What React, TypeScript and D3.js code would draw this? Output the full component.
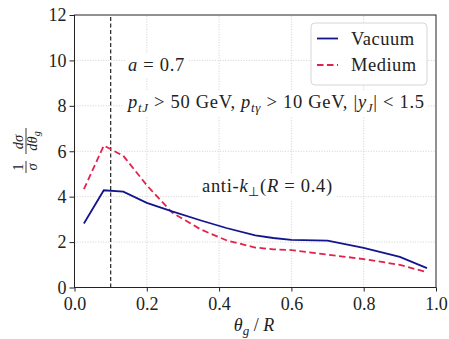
import React, { useEffect, useRef } from 'react';
import * as d3 from 'd3';

const thetaBins = [0.026, 0.081, 0.135, 0.2, 0.27, 0.35, 0.42, 0.5, 0.55, 0.6, 0.7, 0.8, 0.9, 0.975];
const vacuumVals = [2.82, 4.28, 4.22, 3.73, 3.35, 2.95, 2.62, 2.3, 2.18, 2.1, 2.06, 1.75, 1.35, 0.85];
const mediumVals = [4.33, 6.25, 5.8, 4.5, 3.3, 2.55, 2.08, 1.76, 1.68, 1.65, 1.45, 1.25, 1.0, 0.67];
const xTicks = [0, 0.2, 0.4, 0.6, 0.8, 1.0];
const yTicks = [0, 2, 4, 6, 8, 10, 12];
const aCut = 0.1;

const FONT = '"Liberation Serif", serif';

const App = () => {
  const svgRef = useRef<SVGSVGElement>(null);
  const width = 449;
  const height = 339;

  useEffect(() => {
    const svg = d3.select(svgRef.current);
    svg.selectAll('*').remove();

    const margin = { top: 15, right: 13, bottom: 51.5, left: 74.5 };
    const x = d3.scaleLinear().domain([0, 1]).range([margin.left, width - margin.right]);
    const y = d3.scaleLinear().domain([0, 12]).range([height - margin.bottom, margin.top]);

    // grid
    const grid = svg.append('g').attr('stroke', '#c4c4c4').attr('stroke-width', 0.8).attr('stroke-dasharray', '1,1.6');
    grid.selectAll('line.gx')
      .data(xTicks.slice(1, -1))
      .join('line')
      .attr('x1', (d) => x(d)).attr('x2', (d) => x(d))
      .attr('y1', y(0)).attr('y2', y(12));
    grid.selectAll('line.gy')
      .data(yTicks.slice(1, -1))
      .join('line')
      .attr('class', 'gy')
      .attr('x1', x(0)).attr('x2', x(1))
      .attr('y1', (d) => y(d)).attr('y2', (d) => y(d));

    // annotations with white boxes (drawn over grid)
    const addText = (tx: number, ty: number, build: (t: any) => void) => {
      const t = svg.append('text').attr('x', tx).attr('y', ty)
        .attr('font-family', FONT).attr('font-size', 18.5).attr('fill', '#222')
        .attr('letter-spacing', 0.7);
      build(t);
      const bb = (t.node() as SVGTextElement).getBBox();
      svg.insert('rect', 'text')
        .attr('x', bb.x - 3).attr('y', bb.y - 2)
        .attr('width', bb.width + 6).attr('height', bb.height + 4)
        .attr('fill', 'white');
    };

    addText(128, 71, (t) => {
      t.append('tspan').attr('font-style', 'italic').text('a');
      t.append('tspan').text(' = 0.7');
    });
    addText(128, 108, (t) => {
      t.append('tspan').attr('font-style', 'italic').text('p');
      t.append('tspan').attr('font-style', 'italic').attr('font-size', 13).attr('dy', 4).text('tJ');
      t.append('tspan').attr('dy', -4).text(' > 50 GeV, ');
      t.append('tspan').attr('font-style', 'italic').text('p');
      t.append('tspan').attr('font-style', 'italic').attr('font-size', 13).attr('dy', 4).text('tγ');
      t.append('tspan').attr('dy', -4).text(' > 10 GeV, |');
      t.append('tspan').attr('font-style', 'italic').text('y');
      t.append('tspan').attr('font-style', 'italic').attr('font-size', 13).attr('dy', 4).text('J');
      t.append('tspan').attr('dy', -4).text('| < 1.5');
    });
    addText(202, 192, (t) => {
      t.append('tspan').text('anti-');
      t.append('tspan').attr('font-style', 'italic').text('k');
      t.append('tspan').attr('font-size', 13).attr('dy', 4).text('⊥');
      t.append('tspan').attr('dy', -4).text('(');
      t.append('tspan').attr('font-style', 'italic').text('R');
      t.append('tspan').text(' = 0.4)');
    });

    // vertical cut line
    svg.append('line')
      .attr('x1', x(aCut)).attr('x2', x(aCut))
      .attr('y1', y(0)).attr('y2', y(12))
      .attr('stroke', '#333').attr('stroke-width', 1.3).attr('stroke-dasharray', '4,2.5');

    const line = d3.line<number>()
      .x((_, i) => x(thetaBins[i]))
      .y((d) => y(d));

    svg.append('path')
      .attr('d', line(mediumVals))
      .attr('fill', 'none').attr('stroke', '#e3224c').attr('stroke-width', 1.8)
      .attr('stroke-dasharray', '6.5,3.5');
    svg.append('path')
      .attr('d', line(vacuumVals))
      .attr('fill', 'none').attr('stroke', '#14148f').attr('stroke-width', 1.8);

    // frame
    svg.append('rect')
      .attr('x', x(0)).attr('y', y(12))
      .attr('width', x(1) - x(0)).attr('height', y(0) - y(12))
      .attr('fill', 'none').attr('stroke', '#222').attr('stroke-width', 1);

    // axes
    const xAxis = svg.append('g')
      .attr('transform', `translate(0,${y(0)})`)
      .call(d3.axisBottom(x).tickValues(xTicks).tickFormat(d3.format('.1f')).tickSizeOuter(0).tickSize(4).tickPadding(6));
    const yAxis = svg.append('g')
      .attr('transform', `translate(${x(0)},0)`)
      .call(d3.axisLeft(y).tickValues(yTicks).tickFormat(d3.format('d')).tickSizeOuter(0).tickSize(5).tickPadding(3));
    [xAxis, yAxis].forEach((a) => {
      a.select('.domain').remove();
      a.selectAll('line').attr('stroke', '#222');
      a.selectAll('text').attr('font-family', FONT).attr('font-size', 18).attr('fill', '#222');
    });

    // x label
    const xl = svg.append('text')
      .attr('x', 254).attr('y', 331)
      .attr('text-anchor', 'middle')
      .attr('font-family', FONT).attr('font-size', 18).attr('fill', '#222');
    xl.append('tspan').attr('font-style', 'italic').text('θ');
    xl.append('tspan').attr('font-style', 'italic').attr('font-size', 13).attr('dy', 4).text('g');
    xl.append('tspan').attr('dy', -4).text(' / ');
    xl.append('tspan').attr('font-style', 'italic').text('R');

    // y label (stacked fractions, rotated)
    const yl = svg.append('g')
      .attr('transform', 'translate(26,155) rotate(-90)')
      .attr('font-family', FONT).attr('font-size', 14.5).attr('fill', '#222')
      .attr('text-anchor', 'middle');
    yl.append('text').attr('x', -12).attr('y', -3).text('1');
    yl.append('text').attr('x', -12).attr('y', 11).attr('font-style', 'italic').text('σ');
    yl.append('line').attr('x1', -18).attr('x2', -6).attr('y1', 0).attr('y2', 0).attr('stroke', '#222').attr('stroke-width', 0.9);
    yl.append('text').attr('x', 13).attr('y', -3).attr('font-style', 'italic').text('dσ');
    const den = yl.append('text').attr('x', 14).attr('y', 11).attr('font-style', 'italic');
    den.append('tspan').text('dθ');
    den.append('tspan').attr('font-size', 10).attr('dy', 3).text('g');
    yl.append('line').attr('x1', 1).attr('x2', 27).attr('y1', 0).attr('y2', 0).attr('stroke', '#222').attr('stroke-width', 0.9);

    // legend
    const lg = svg.append('g');
    lg.append('rect')
      .attr('x', 311).attr('y', 23).attr('width', 116).attr('height', 62).attr('rx', 4)
      .attr('fill', 'white').attr('fill-opacity', 0.85)
      .attr('stroke', '#d6d6d6').attr('stroke-width', 1);
    const items = [
      { label: 'Vacuum', color: '#14148f', dash: null },
      { label: 'Medium', color: '#e3224c', dash: '6.5,3.5' },
    ];
    items.forEach((it, i) => {
      const yy = 38.5 + i * 26.5;
      lg.append('line')
        .attr('x1', 317).attr('x2', 338).attr('y1', yy).attr('y2', yy)
        .attr('stroke', it.color).attr('stroke-width', 1.8)
        .attr('stroke-dasharray', it.dash);
      lg.append('text')
        .attr('x', 351).attr('y', yy + 6)
        .attr('font-family', FONT).attr('font-size', 18.5).attr('fill', '#222')
        .attr('letter-spacing', 0.5)
        .text(it.label);
    });
  }, []);

  return (
    <svg
      ref={svgRef}
      width={width}
      height={height}
      style={{ position: 'absolute', left: 0, top: 0, background: 'white' }}
    />
  );
};

export default App;
